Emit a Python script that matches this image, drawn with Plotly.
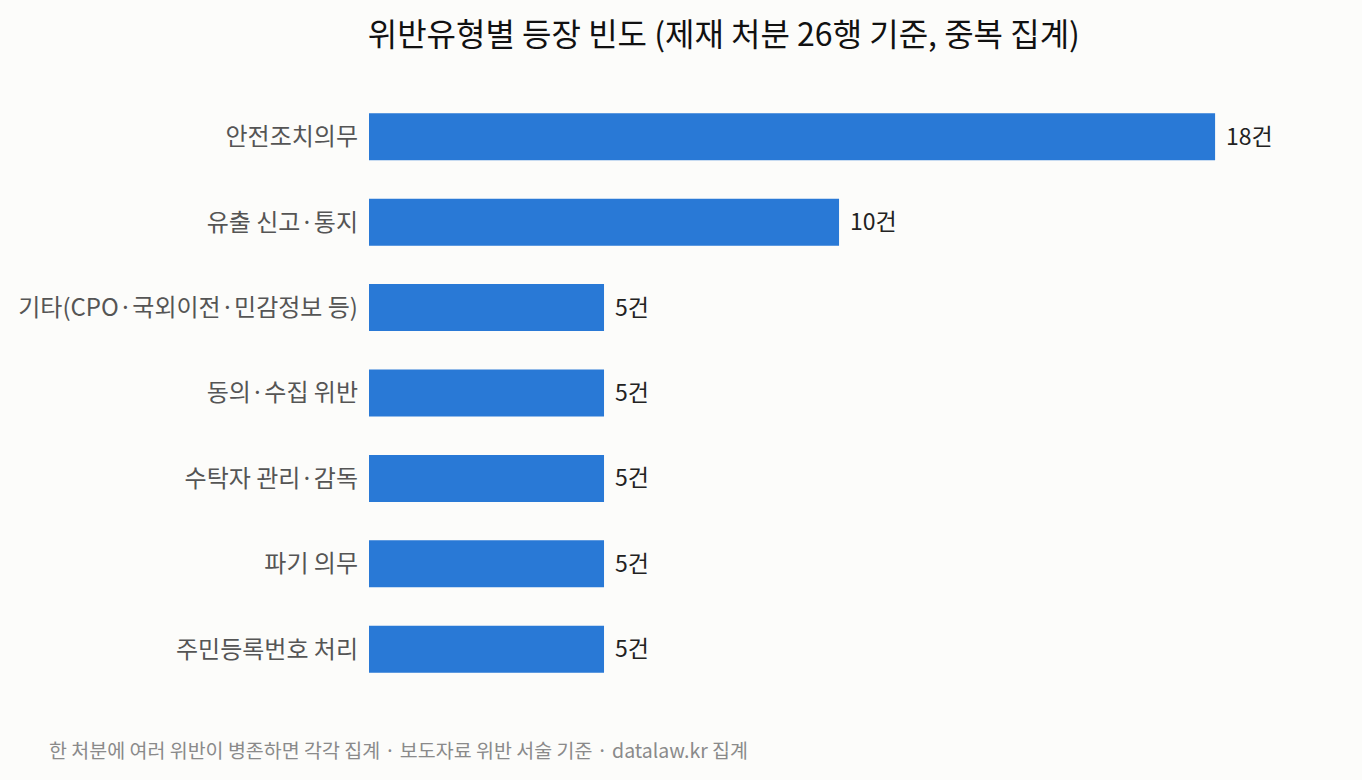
import plotly.graph_objects as go

categories = ["안전조치의무", "유출 신고·통지", "기타(CPO·국외이전·민감정보 등)", "동의·수집 위반",
              "수탁자 관리·감독", "파기 의무", "주민등록번호 처리"]
counts = [18, 10, 5, 5, 5, 5, 5]
labels = [f"{v}건" for v in counts]

FONT = "Noto Sans CJK KR"
BG = "#fcfcfa"
BAR = "#2979d6"

fig = go.Figure()
fig.add_trace(go.Bar(
    x=counts, y=categories, orientation="h",
    marker=dict(color=BAR, line=dict(width=0)),
    hoverinfo="skip",
))
for c, v, t in zip(categories, counts, labels):
    fig.add_annotation(x=v, y=c, text=t, showarrow=False, xanchor="left", xshift=9, yshift=2,
                       font=dict(family=FONT, size=23, color="#222"))

fig.add_annotation(xref="paper", yref="paper", x=-0.331, y=-0.068, xanchor="left", yanchor="top",
                   text="한 처분에 여러 위반이 병존하면 각각 집계 · 보도자료 위반 서술 기준 · datalaw.kr 집계",
                   showarrow=False, font=dict(family=FONT, size=19.5, color="#8a8a8a"))

fig.update_layout(
    width=1362, height=780,
    paper_bgcolor=BG, plot_bgcolor=BG,
    margin=dict(l=369, r=20, t=94, b=88),
    title=dict(text="위반유형별 등장 빈도 (제재 처분 26행 기준, 중복 집계)",
               x=0.27, xanchor="left", y=0.955, yanchor="middle",
               font=dict(family=FONT, size=32, color="#111")),
    bargap=0.45,
    showlegend=False,
    font=dict(family=FONT),
)
fig.update_xaxes(range=[0, 20.7], visible=False)
fig.update_yaxes(autorange="reversed", showgrid=False, zeroline=False, showline=False,
                 ticks="", ticklabelstandoff=10,
                 tickfont=dict(family=FONT, size=24, color="#555"))

fig.write_html("out.html")
